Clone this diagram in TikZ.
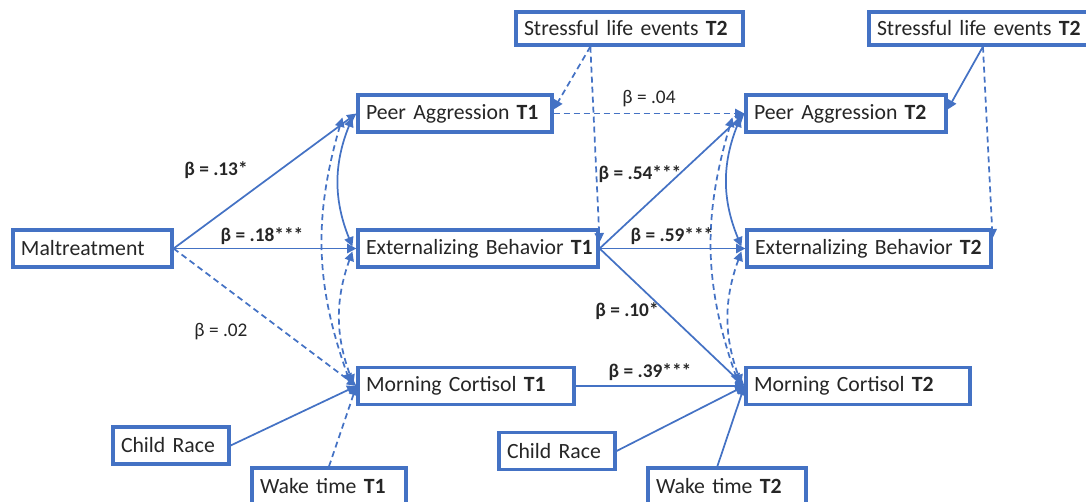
\documentclass[tikz,border=0pt]{standalone}
\usepackage{fontspec}
\setmainfont{Carlito}
\usetikzlibrary{arrows.meta,calc}
\definecolor{ob}{HTML}{4472C4}
\definecolor{tx}{HTML}{262626}
\begin{document}
\begin{tikzpicture}[x=0.75pt,y=-0.75pt,
  box/.style={draw=ob, line width=2.4pt, fill=white, text=tx, inner xsep=6pt, inner ysep=0pt,
    minimum height=27.75pt, align=left, font=\fontsize{16.3}{18}\selectfont},
  sbox/.style={box, minimum height=24.75pt},
  lab/.style={font=\fontsize{14.5}{16}\selectfont, text=tx, inner sep=1pt},
  blab/.style={lab, font=\fontsize{14.5}{16}\selectfont\bfseries},
  tip/.tip={Triangle[length=7pt,width=7pt]},
  conn/.style={draw=ob, line width=1.3pt, -tip},
  dconn/.style={conn, dash pattern=on 4.5pt off 3pt},
  cov/.style={draw=ob, line width=1.3pt, tip-tip},
  dcov/.style={cov, dash pattern=on 4.5pt off 3pt}]
\useasboundingbox (0,0) rectangle (1086,501);

% nodes
\node[box, text width=107.25pt] (M) at (92.5,248.5) {\mbox{Maltreatment}};
\node[box, text width=133.5pt] (PA1) at (455,113.5) {\mbox{Peer Aggression \textbf{T1}}};
\node[box, text width=168pt] (E1) at (478,248.5) {\mbox{Externalizing Behavior \textbf{T1}}};
\node[box, text width=150pt] (C1) at (466,386) {\mbox{Morning Cortisol \textbf{T1}}};
\node[box, text width=75pt] (CR1) at (171,445.5) {\mbox{Child Race}};
\node[box, text width=103.5pt] (W1) at (329,486.5) {\mbox{Wake time \textbf{T1}}};
\node[sbox, text width=158.25pt] (SL) at (629.5,28.5) {\mbox{Stressful life events \textbf{T2}}};
\node[sbox, text width=152.25pt] (SR) at (978.5,28.5) {\mbox{Stressful life events \textbf{T2}}};
\node[box, text width=138pt] (PA2) at (846,113.5) {\mbox{Peer Aggression \textbf{T2}}};
\node[box, text width=171pt] (E2) at (869,248.5) {\mbox{Externalizing Behavior \textbf{T2}}};
\node[box, text width=156pt] (C2) at (858,386) {\mbox{Morning Cortisol \textbf{T2}}};
\node[box, text width=75pt] (CR2) at (557,451) {\mbox{Child Race}};
\node[box, text width=106.5pt] (W2) at (727,486.5) {\mbox{Wake time \textbf{T2}}};

% helper coordinates
\coordinate (slb) at ($(SL.south west)!0.33!(SL.south east)$);
\coordinate (srb) at ($(SR.south west)!0.52!(SR.south east)$);
\coordinate (e1r) at ($(E1.north east)+(0,14)$);
\coordinate (e2r) at ($(E2.north east)+(0,10)$);
\coordinate (pa1r) at ($(PA1.east)+(0,-4)$);
\coordinate (pa2r) at ($(PA2.east)+(0,-4)$);
\coordinate (w2t) at ($(W2.north west)!0.44!(W2.north east)$);

% T1 paths
\draw[conn] (M.east) -- (PA1.west);
\draw[conn] (M.east) -- (E1.west);
\draw[dconn] (M.east) -- (C1.west);
\draw[conn] (CR1.east) -- (C1.west);
\draw[dconn] (W1.north) -- (C1.west);
\draw[cov] ($(PA1.west)+(-4,4)$) to[bend right=22] ($(E1.west)+(-4,-2)$);
\draw[dcov] ($(PA1.west)+(-14,4)$) to[bend right=18] ($(C1.west)+(-6,-3)$);
\draw[dcov] ($(E1.west)+(-4,3)$) to[bend right=20] ($(C1.west)+(-3,-2)$);

% stressful life events T2 (left)
\draw[dconn] (slb) -- (pa1r);
\draw[dconn] (slb) -- (e1r);

% cross-lag paths
\draw[dconn] (PA1.east) -- (PA2.west);
\draw[conn] (E1.east) -- (PA2.west);
\draw[conn] (E1.east) -- (E2.west);
\draw[conn] (E1.east) -- (C2.west);
\draw[conn] (C1.east) -- (C2.west);
\draw[conn] (CR2.east) -- (C2.west);
\draw[conn] (w2t) -- (C2.west);

% T2 covariances
\draw[cov] ($(PA2.west)+(-4,4)$) to[bend right=22] ($(E2.west)+(-4,-2)$);
\draw[dcov] ($(PA2.west)+(-12,4)$) to[bend right=18] ($(C2.west)+(-6,-3)$);
\draw[dcov] ($(E2.west)+(-4,3)$) to[bend right=20] ($(C2.west)+(-3,-2)$);

% stressful life events T2 (right)
\draw[conn] (srb) -- (pa2r);
\draw[dconn] (srb) -- (e2r);

% labels
\node[blab] (l13) at (216,170) {β = .13*};
\node[blab] (l18) at (262,236) {β = .18***};
\node[lab]  (l02) at (221,332) {β = .02};
\node[lab]  (l04) at (649,99) {β = .04};
\node[blab] (l54) at (640,174) {β = .54***};
\node[blab] (l59) at (672,236) {β = .59***};
\node[blab] (l10) at (627,311) {β = .10*};
\node[blab] (l39) at (650,372) {β = .39***};
\end{tikzpicture}
\end{document}
